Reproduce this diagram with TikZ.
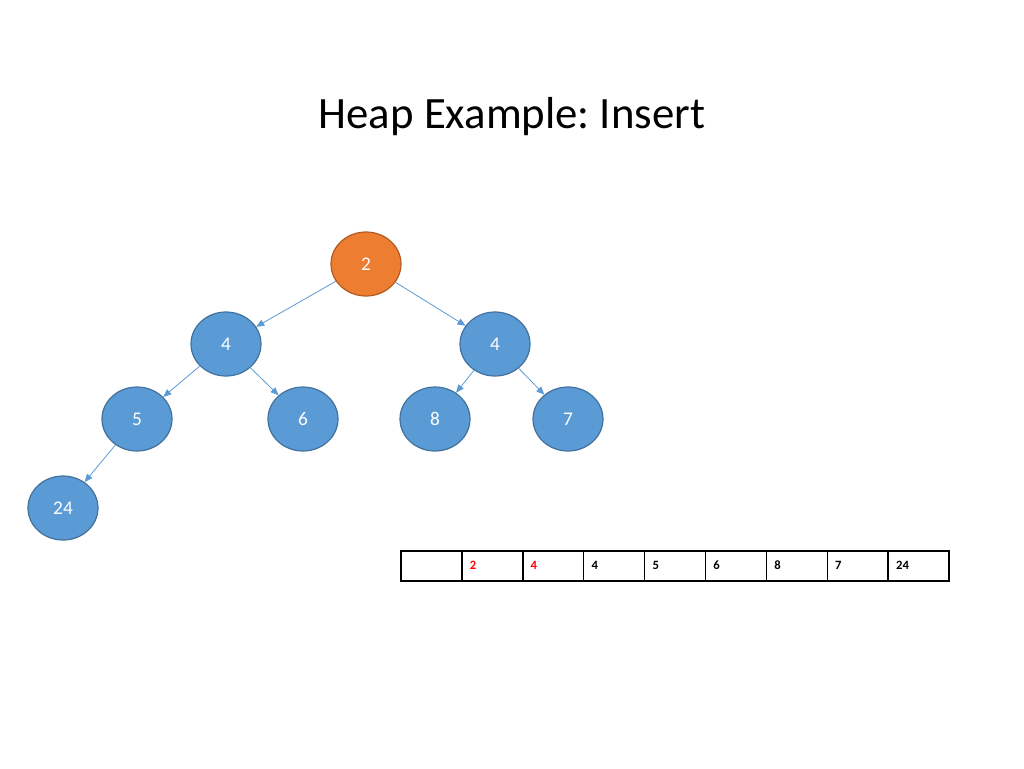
\documentclass[tikz,border=0pt]{standalone}
\usepackage{fontspec}
\setmainfont{Carlito}
\usetikzlibrary{arrows.meta,shapes.geometric}
\definecolor{heapblue}{HTML}{5B9BD5}
\definecolor{heapline}{HTML}{41719C}
\definecolor{rootfill}{HTML}{ED7D31}
\definecolor{rootline}{HTML}{AE5A21}
\definecolor{swapred}{HTML}{FF0000}

\begin{document}
\frenchspacing
\begin{tikzpicture}[x=0.75pt,y=-0.75pt]

      \useasboundingbox (0,0) rectangle (1024,768);

      \node (title) at (512,117) {\fontsize{33.6}{38}\selectfont Heap Example: Insert};

      \begin{scope}[every node/.style={ellipse, draw=heapline, fill=heapblue, line width=0.9pt,
          minimum width=52.5pt, minimum height=48pt, inner sep=0pt, text=white,
          font=\fontsize{14.5}{16}\selectfont}]
        \node[fill=rootfill, draw=rootline] (r)  at (366,264) {2};
        \node (a) at (226,344) {4};
        \node (b) at (495,344) {4};
        \node (c) at (137,419) {5};
        \node (d) at (303,419) {6};
        \node (e) at (435,419) {8};
        \node (f) at (568,419) {7};
        \node (g) at (63,508)  {24};
      \end{scope}

      \begin{scope}[every edge/.style={draw=heapblue, line width=0.6pt, -{Triangle[length=6pt,width=5pt]}}]
        \path (r) edge (a);
        \path (r) edge (b);
        \path (a) edge (c);
        \path (a) edge (d);
        \path (b) edge (e);
        \path (b) edge (f);
        \path (c) edge (g);
      \end{scope}

      \begin{scope}[every node/.style={rectangle, draw=black, line width=1.1pt,
          minimum height=22.5pt, inner xsep=6pt, text width=33.7pt, align=left,
          text height=7pt, text depth=2.5pt, font=\bfseries\fontsize{9.5}{10}\selectfont}]
        \node (t0) at (431.4,566) {};
        \node[text=swapred] (t1) at (492.3,566) {2};
        \node[text=swapred] (t2) at (553.2,566) {4};
        \node (t3) at (614.1,566) {4};
        \node (t4) at (675.0,566) {5};
        \node (t5) at (735.9,566) {6};
        \node (t6) at (796.8,566) {8};
        \node (t7) at (857.7,566) {7};
        \node (t8) at (918.6,566) {24};
      \end{scope}

    \end{tikzpicture}
\end{document}
